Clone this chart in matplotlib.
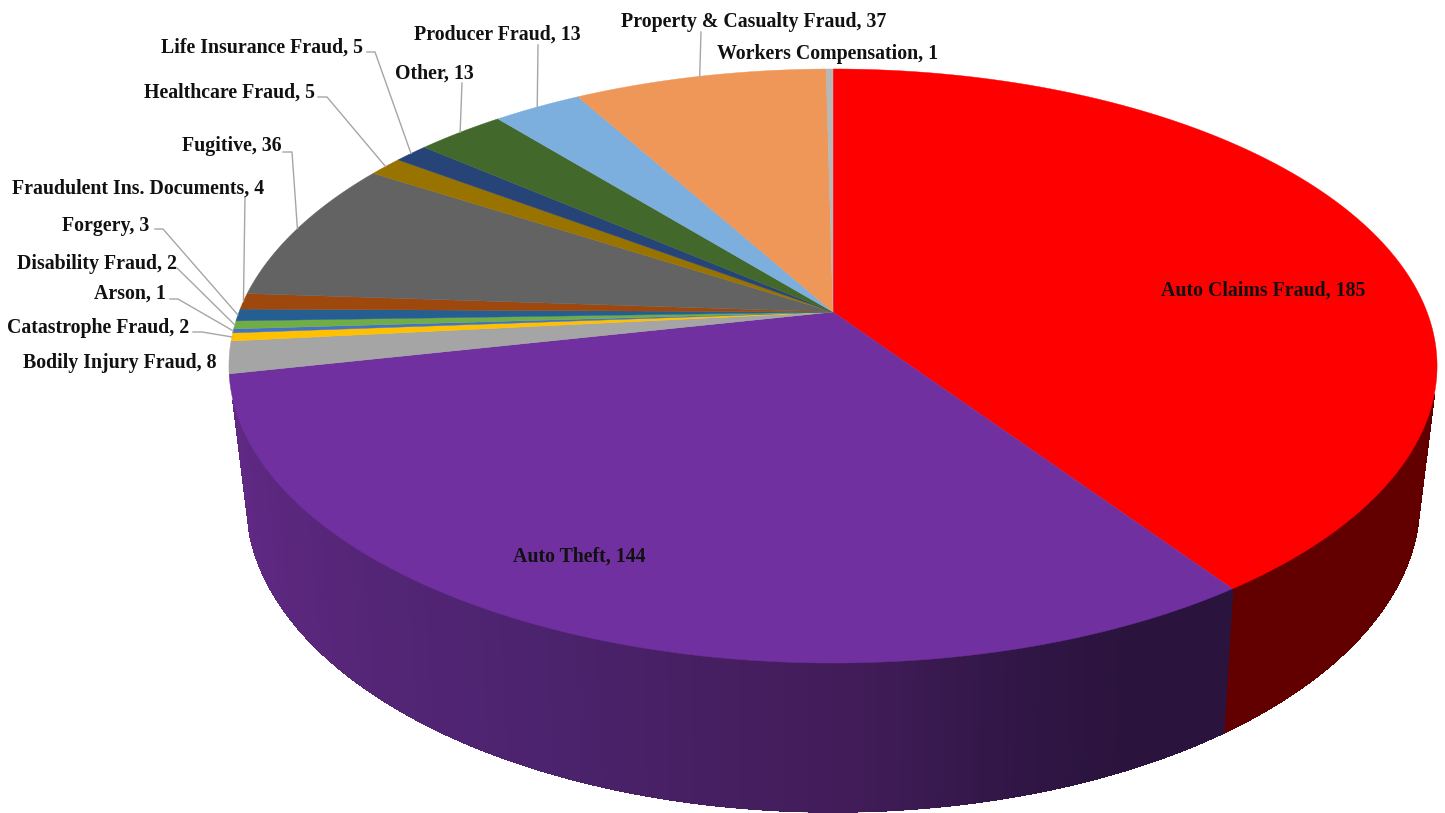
import numpy as np
import matplotlib
matplotlib.use("Agg")
import matplotlib.pyplot as plt
from matplotlib.collections import PolyCollection, LineCollection

categories = ["Auto Claims Fraud", "Auto Theft", "Bodily Injury Fraud", "Catastrophe Fraud",
              "Arson", "Disability Fraud", "Forgery", "Fraudulent Ins. Documents", "Fugitive",
              "Healthcare Fraud", "Life Insurance Fraud", "Other", "Producer Fraud",
              "Property & Casualty Fraud", "Workers Compensation"]
values = [185, 144, 8, 2, 1, 2, 3, 4, 36, 5, 5, 13, 13, 37, 1]
colors = ["#FF0000", "#7030A0", "#A5A5A5", "#FFC000", "#4472C4", "#70AD47", "#255E91", "#9E480E",
          "#636363", "#997300", "#264478", "#43682B", "#7CAFDD", "#EE9759", "#B7B7B7"]

# layout: label centre, and elbow points of the leader line (pixels)
label_pos = {
    "Auto Claims Fraud": (1263, 290), "Auto Theft": (579, 556), "Bodily Injury Fraud": (120, 362),
    "Catastrophe Fraud": (98, 327), "Arson": (130, 293), "Disability Fraud": (97, 263),
    "Forgery": (106, 225), "Fraudulent Ins. Documents": (138, 188), "Fugitive": (232, 146),
    "Healthcare Fraud": (230, 92), "Life Insurance Fraud": (262, 47), "Other": (434, 73),
    "Producer Fraud": (497, 34), "Property & Casualty Fraud": (754, 21),
    "Workers Compensation": (828, 53),
}
leaders = {
    "Catastrophe Fraud": [(193, 332), (202, 332)], "Arson": [(170, 299), (178, 299)],
    "Disability Fraud": [(177, 268)], "Forgery": [(155, 229), (163, 229)],
    "Fraudulent Ins. Documents": [(245, 197)], "Fugitive": [(283, 152), (292, 152)],
    "Healthcare Fraud": [(318, 97), (327, 97)], "Life Insurance Fraud": [(367, 52), (375, 52)],
    "Other": [(462, 83)], "Producer Fraud": [(538, 45)], "Property & Casualty Fraud": [(701, 32)],
}

CX = 833.0


def top_rim(theta):
    """Perspective projection of the top circle; theta clockwise from 12 o'clock."""
    u, v = np.sin(theta), -np.cos(theta)
    d = 1 - 0.1818 * v
    return CX + 594.0 * u / d, 312.0 + 287.2 * v / d


def bottom_rim(theta):
    u, v = np.sin(theta), -np.cos(theta)
    d = 1 - 0.19 * v
    return CX + 576.0 * u / d, 441.5 + 300.0 * v / d


vals = np.array(values, dtype=float)
edges = np.concatenate([[0], np.cumsum(vals)]) / vals.sum() * 2 * np.pi

fig = plt.figure(figsize=(14.45, 8.13), dpi=100, facecolor="white")
ax = fig.add_axes([0, 0, 1, 1])
ax.set_xlim(0, 1445)
ax.set_ylim(813, 0)
ax.axis("off")

# side wall shading by angle
side_stops = np.array([145, 155, 165, 178, 205, 235, 258]) * 1.0
side_r = np.array([42, 42, 48, 65, 76, 90, 98])
side_g = np.array([19, 19, 22, 28, 35, 39, 42])
side_b = np.array([60, 60, 70, 88, 110, 125, 135])


def side(t0, t1, colfun):
    ts = np.linspace(t0, t1, 220)
    polys, cols, segs = [], [], []
    for a, b in zip(ts[:-1], ts[1:]):
        xa, ya = top_rim(a)
        xb, yb = top_rim(b)
        xc, yc = bottom_rim(b)
        xd, yd = bottom_rim(a)
        polys.append([(xa, ya), (xb, yb), (xc, yc), (xd, yd)])
        cols.append(colfun(np.degrees((a + b) / 2)))
        segs.append([(xd, yd), (xc, yc)])
    ax.add_collection(PolyCollection(polys, facecolors=cols, edgecolors=cols, linewidths=0.6,
                                     antialiaseds=False, zorder=1))
    ax.add_collection(LineCollection(segs, colors=cols, linewidths=0.9, zorder=1.1))


def red_col(d):
    return "#620000"


def purple_col(d):
    return (np.interp(d, side_stops, side_r) / 255,
            np.interp(d, side_stops, side_g) / 255,
            np.interp(d, side_stops, side_b) / 255)


side(np.radians(106), edges[1], red_col)
side(edges[1], np.radians(253), purple_col)

# top face
for i, c in enumerate(colors):
    n = max(4, int(np.degrees(edges[i + 1] - edges[i]) * 3))
    t = np.linspace(edges[i], edges[i + 1], n)
    x, y = top_rim(t)
    ax.fill(np.r_[CX, x], np.r_[312.0, y], facecolor=c, edgecolor=c, linewidth=0.3, zorder=2)

# labels and leaders
for i, (name, val) in enumerate(zip(categories, values)):
    lx, ly = label_pos[name]
    ax.text(lx, ly + 0.5, f"{name}, {val}", ha="center", va="center", family="Liberation Serif",
            fontweight="bold", fontsize=14.3, color="#111111", zorder=4)
    if name in leaders:
        ex, ey = top_rim((edges[i] + edges[i + 1]) / 2)
        pts = leaders[name] + [(ex, ey)]
        ax.plot([p[0] for p in pts], [p[1] for p in pts], color="#A6A6A6", lw=1.0, zorder=3,
                solid_joinstyle="round")

fig.savefig("out.png", dpi=100, facecolor="white")
